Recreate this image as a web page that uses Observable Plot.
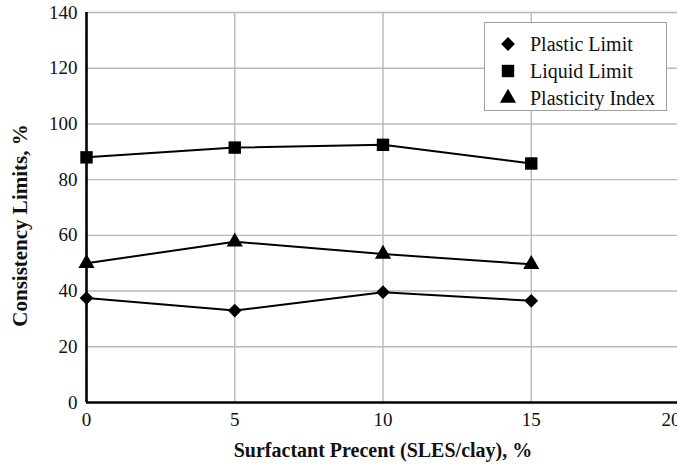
<!DOCTYPE html>
<html>
<head>
<meta charset="utf-8">
<script src="https://cdn.jsdelivr.net/npm/d3@7"></script>
<script src="https://cdn.jsdelivr.net/npm/@observablehq/plot@0.6"></script>
<style>
  html, body { margin: 0; padding: 0; background: #fff; }
  #wrap { position: relative; width: 677px; height: 465px; overflow: hidden; font-family: 'Liberation Serif', 'Times New Roman', 'DejaVu Serif', serif; }
  #wrap svg text { font-family: 'Liberation Serif', 'Times New Roman', 'DejaVu Serif', serif; }
  #legend { position: absolute; left: 484px; top: 22px; width: 183px; height: 89px; border: 1px solid #a0a0a0; background: #fff; box-sizing: border-box; }
  .row { position: absolute; left: 0; height: 26px; display: flex; align-items: center; }
  .row svg { position: absolute; left: 11px; }
  .row span { position: absolute; left: 45px; white-space: nowrap; font-size: 20px; color: #111; font-family: 'Liberation Serif', 'Times New Roman', 'DejaVu Serif', serif; }
</style>
</head>
<body>
<div id="wrap"></div>
<script>
const percent = [0, 5, 10, 15];
const plasticLimit = [37.5, 33, 39.6, 36.5];
const liquidLimit = [88, 91.5, 92.5, 85.8];
const plasticityIndex = [50, 57.7, 53.3, 49.6];
const seriesNames = ["Plastic Limit", "Liquid Limit", "Plasticity Index"];
const xTicks = [0, 5, 10, 15, 20];
const yTicks = [0, 20, 40, 60, 80, 100, 120, 140];
const xTitle = "Surfactant Precent (SLES/clay), %";
const yTitle = "Consistency Limits, %";

const rows = (vals) => percent.map((p, i) => ({x: p, y: vals[i]}));
const pl = rows(plasticLimit), ll = rows(liquidLimit), pi = rows(plasticityIndex);
const serif = "'Liberation Serif', 'Times New Roman', 'DejaVu Serif', serif";

const chart = Plot.plot({
  width: 677,
  height: 465,
  marginLeft: 86,
  marginRight: -2,
  marginTop: 12,
  marginBottom: 63,
  style: {fontFamily: serif, fontSize: "19px", color: "#111", background: "#fff"},
  x: {domain: [0, 20], ticks: xTicks, label: null},
  y: {domain: [0, 140], ticks: yTicks, label: null},
  marks: [
    Plot.gridY(yTicks.filter(d => d > 0), {stroke: "#b8b8b8", strokeOpacity: 1, strokeWidth: 1.4}),
    Plot.gridX(xTicks.filter(d => d > 0), {stroke: "#b8b8b8", strokeOpacity: 1, strokeWidth: 1.4}),
    Plot.axisY(yTicks, {tickSize: 0, tickPadding: 9, fontSize: 19, label: null}),
    Plot.axisX(xTicks.filter(d => d < 20), {tickSize: 0, tickPadding: 10, fontSize: 19, label: null}),
    Plot.axisX(xTicks.filter(d => d === 20), {tickSize: 0, tickPadding: 10, fontSize: 19, label: null, textAnchor: "end", dx: 1}),
    Plot.ruleX([0], {stroke: "#000", strokeWidth: 2.6}),
    Plot.ruleY([0], {stroke: "#000", strokeWidth: 2.6}),
    Plot.line(ll, {x: "x", y: "y", stroke: "#000", strokeWidth: 2}),
    Plot.line(pi, {x: "x", y: "y", stroke: "#000", strokeWidth: 2}),
    Plot.line(pl, {x: "x", y: "y", stroke: "#000", strokeWidth: 2}),
    Plot.dot(ll, {x: "x", y: "y", symbol: "square", r: 7, fill: "#000", stroke: "none"}),
    Plot.dot(pi, {x: "x", y: "y", symbol: "triangle", r: 6, fill: "#000", stroke: "none"}),
    Plot.dot(pl, {x: "x", y: "y", symbol: "diamond2", r: 6.2, fill: "#000", stroke: "none"}),
    Plot.text([xTitle], {frameAnchor: "bottom", textAnchor: "middle", lineAnchor: "middle", dy: 48, fontWeight: "bold", fontSize: 20, fill: "#111"}),
    Plot.text([yTitle], {frameAnchor: "left", textAnchor: "middle", lineAnchor: "middle", dx: -66, dy: 18, rotate: -90, fontWeight: "bold", fontSize: 21, fill: "#111"})
  ]
});
const wrap = document.getElementById("wrap");
wrap.appendChild(chart);

// legend
const legend = document.createElement("div");
legend.id = "legend";
const syms = [
  d3.symbol(d3.symbolDiamond2, Math.PI * 6.2 * 6.2)(),
  d3.symbol(d3.symbolSquare, Math.PI * 7 * 7)(),
  d3.symbol(d3.symbolTriangle, Math.PI * 6 * 6)()
];
const tops = [8, 35, 62];
seriesNames.forEach((name, i) => {
  const row = document.createElement("div");
  row.className = "row";
  row.style.top = tops[i] + "px";
  row.innerHTML = `<svg width="24" height="24" viewBox="-12 -12 24 24"><path d="${syms[i]}" fill="#000"/></svg><span>${name}</span>`;
  legend.appendChild(row);
});
wrap.appendChild(legend);
</script>
</body>
</html>
